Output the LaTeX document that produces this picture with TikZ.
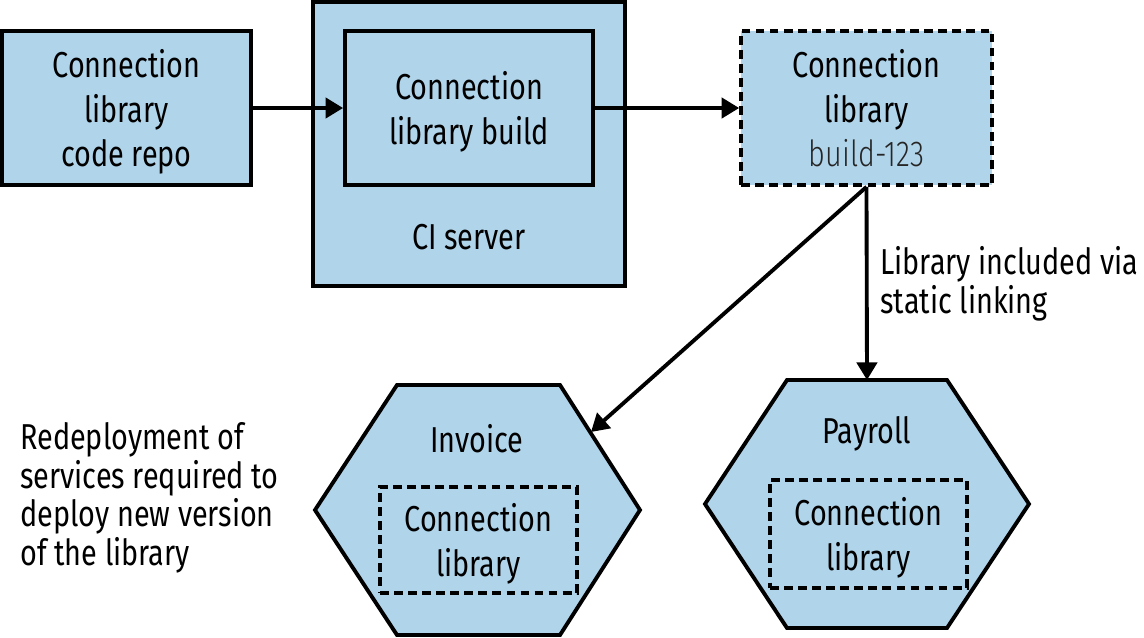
\documentclass[tikz,border=0pt]{standalone}
\usepackage{fontspec}
\setmainfont{Fira Sans}[FakeStretch=0.8]
\newfontfamily\lightfont{Fira Sans Light}[FakeStretch=0.8]
\usetikzlibrary{arrows.meta,positioning}
\definecolor{libblue}{RGB}{176,212,234}

\begin{document}
\begin{tikzpicture}[x=0.02cm,y=-0.02cm,
    font=\fontsize{20.5}{25.5}\selectfont,
    box/.style={draw,line width=2.2pt,fill=libblue,align=center,inner sep=0pt},
    dashbox/.style={draw,line width=2.1pt,dash pattern=on 5pt off 3pt,align=center,inner sep=0pt},
    hexa/.style={draw,line width=2.2pt,fill=libblue,line join=miter},
    link/.style={line width=2.2pt,-{Triangle[length=10pt,width=11.5pt]}},
    note/.style={align=left,font=\fontsize{20.5}{22}\selectfont,inner sep=0pt}]
  \useasboundingbox (0,0) rectangle (1144,637);
  % Code repository
  \node[box,minimum width=4.98cm,minimum height=3.08cm,text depth=-3pt] (repo) at (126.5,108)
    {Connection\\library\\code repo};
  % CI server with the build inside
  \node[box,minimum width=6.24cm,minimum height=5.68cm] (ci) at (469,144) {};
  \node[box,minimum width=4.96cm,minimum height=3.08cm,text depth=-2pt] (build) at (469,108)
    {Connection\\library build};
  \node (citext) at (469,237) {CI server};
  % Built artifact
  \node[dashbox,fill=libblue,minimum width=5.02cm,minimum height=3.08cm,text depth=-3pt] (artifact) at (866.5,108)
    {Connection\\library\\{\lightfont\color{black!85}build-123}};
  % Invoice service
  \draw[hexa] (315,510) -- (397,385) -- (560,385) -- (640,510) -- (560,635) -- (397,635) -- cycle;
  \coordinate (invoice) at (591,432);
  \node (invtext) at (477,439) {Invoice};
  \node[dashbox,minimum width=3.94cm,minimum height=2.12cm,text depth=-3pt] (invlib) at (478.5,540)
    {Connection\\library};
  % Payroll service
  \draw[hexa] (705,504) -- (787,380) -- (947,380) -- (1029,504) -- (947,628) -- (787,628) -- cycle;
  \coordinate (payroll) at (867,380);
  \node (paytext) at (867,434) {Payroll};
  \node[dashbox,minimum width=3.94cm,minimum height=2.16cm,text depth=-3pt] (paylib) at (868.5,534)
    {Connection\\library};
  % Arrows
  \draw[link] (repo.east) -- (build.west);
  \draw[link] (build.east) -- (artifact.west);
  \draw[link] (artifact.south) -- (invoice);
  \draw[link] (artifact.south) -- (payroll);
  % Notes
  \node[note,anchor=north west] (linknote) at (880,246) {Library included via\\static linking};
  \node[note,anchor=north west] (redeploy) at (20,422)
    {Redeployment of\\services required to\\deploy new version\\of the library};
\end{tikzpicture}
\end{document}
